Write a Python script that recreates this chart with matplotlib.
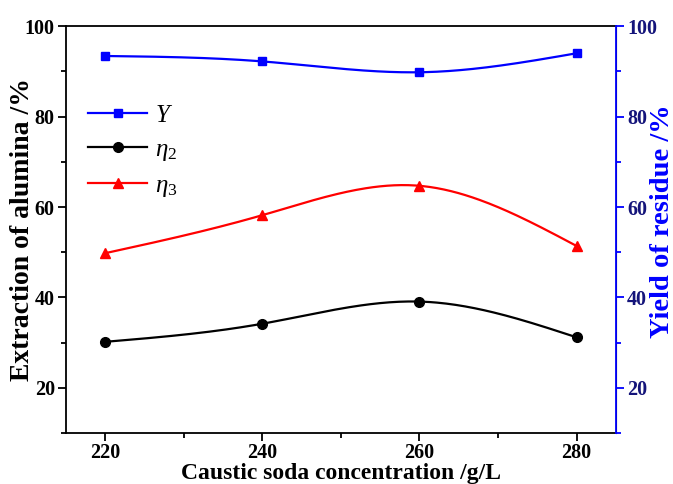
import numpy as np
import matplotlib
matplotlib.use("Agg")
import matplotlib.pyplot as plt
from matplotlib.ticker import MultipleLocator

# Data
conc = [220, 240, 260, 280]
Y_vals = [93.4, 92.2, 89.8, 94.0]
eta2_vals = [30.2, 34.2, 39.1, 31.2]
eta3_vals = [49.8, 58.2, 64.7, 51.4]
x_ticks = [220, 240, 260, 280]
y_ticks = [20, 40, 60, 80, 100]


def natural_spline(x, y, n=200):
    x = np.asarray(x, float)
    y = np.asarray(y, float)
    m = len(x)
    h = np.diff(x)
    A = np.zeros((m, m))
    b = np.zeros(m)
    A[0, 0] = 1
    A[-1, -1] = 1
    for i in range(1, m - 1):
        A[i, i - 1] = h[i - 1]
        A[i, i] = 2 * (h[i - 1] + h[i])
        A[i, i + 1] = h[i]
        b[i] = 6 * ((y[i + 1] - y[i]) / h[i] - (y[i] - y[i - 1]) / h[i - 1])
    M = np.linalg.solve(A, b)
    xs = np.linspace(x[0], x[-1], n)
    ys = np.empty_like(xs)
    for k, xv in enumerate(xs):
        i = min(np.searchsorted(x, xv, side="right") - 1, m - 2)
        t1 = x[i + 1] - xv
        t0 = xv - x[i]
        hi = h[i]
        ys[k] = (M[i] * t1 ** 3 / (6 * hi) + M[i + 1] * t0 ** 3 / (6 * hi)
                 + (y[i] / hi - M[i] * hi / 6) * t1
                 + (y[i + 1] / hi - M[i + 1] * hi / 6) * t0)
    return xs, ys


plt.rcParams['font.family'] = ['Liberation Serif', 'DejaVu Serif']
plt.rcParams['font.weight'] = 'bold'
plt.rcParams['mathtext.fontset'] = 'custom'
plt.rcParams['mathtext.it'] = 'Liberation Serif:italic:normal'
plt.rcParams['mathtext.rm'] = 'Liberation Serif:normal'
plt.rcParams['mathtext.default'] = 'it'

fig = plt.figure(figsize=(6.73, 4.84), dpi=100)
ax = fig.add_axes([0.098, 0.105, 0.817, 0.841])
ax2 = ax.twinx()

lw = 1.6
# Y on right axis
xs, ys = natural_spline(conc, Y_vals)
ax2.plot(xs, ys, color='#0000ff', lw=lw)
ax2.plot(conc, Y_vals, 's', color='#0000ff', ms=6)

xs, ys = natural_spline(conc, eta2_vals)
ax.plot(xs, ys, color='black', lw=lw)
ax.plot(conc, eta2_vals, 'o', color='black', ms=7)

xs, ys = natural_spline(conc, eta3_vals)
ax.plot(xs, ys, color='#ff0000', lw=lw)
ax.plot(conc, eta3_vals, '^', color='#ff0000', ms=7.5)

# Legend proxies
hY, = ax.plot([], [], '-s', color='#0000ff', lw=lw, ms=6)
h2, = ax.plot([], [], '-o', color='black', lw=lw, ms=7)
h3, = ax.plot([], [], '-^', color='#ff0000', lw=lw, ms=7.5)
leg = ax.legend([hY, h2, h3], [r'$Y$', r'$\eta_2$', r'$\eta_3$'],
                loc='upper left', bbox_to_anchor=(0.0, 0.865), frameon=False,
                fontsize=18, handlelength=2.35, labelspacing=0.45, handletextpad=0.3)

ax.set_xlim(215, 285)
ax.set_ylim(10, 100)
ax2.set_ylim(10, 100)
ax.set_xticks(x_ticks)
ax.set_yticks(y_ticks)
ax2.set_yticks(y_ticks)
ax.xaxis.set_minor_locator(MultipleLocator(10))
ax.yaxis.set_minor_locator(MultipleLocator(10))
ax2.yaxis.set_minor_locator(MultipleLocator(10))

ax.tick_params(axis='both', which='major', direction='out', length=6, width=1.3,
               labelsize=14.5, pad=2)
ax.tick_params(axis='x', which='major', pad=1)
ax.tick_params(axis='both', which='minor', direction='out', length=3.5, width=1.3)
ax.tick_params(axis='x', top=False, which='both')
for lab in ax.get_xticklabels() + ax.get_yticklabels():
    lab.set_fontweight('bold')

ax2.tick_params(axis='y', which='major', direction='out', length=6, width=1.3,
                labelsize=14.5, colors='#0000ff', labelcolor='#14147a', pad=2)
ax2.tick_params(axis='y', which='minor', direction='out', length=3.5, width=1.3,
                colors='#0000ff')
for lab in ax2.get_yticklabels():
    lab.set_fontweight('bold')

for s in ['left', 'bottom', 'top']:
    ax.spines[s].set_linewidth(1.3)
ax2.spines['right'].set_color('#0000ff')
ax2.spines['right'].set_linewidth(1.3)
ax2.spines['left'].set_visible(False)
ax2.spines['top'].set_visible(False)
ax2.spines['bottom'].set_visible(False)

ax.set_xlabel('Caustic soda concentration /g/L', fontsize=17, fontweight='bold',
              labelpad=0)
ax.set_ylabel('Extraction of alumina /%', fontsize=20, fontweight='bold')
ax.yaxis.set_label_coords(-0.057, 0.5)
ax2.set_ylabel('Yield of residue /%', fontsize=20.5, fontweight='bold', color='#0000ff')
ax2.yaxis.set_label_coords(1.062, 0.52)

fig.savefig('out.png', dpi=100)
